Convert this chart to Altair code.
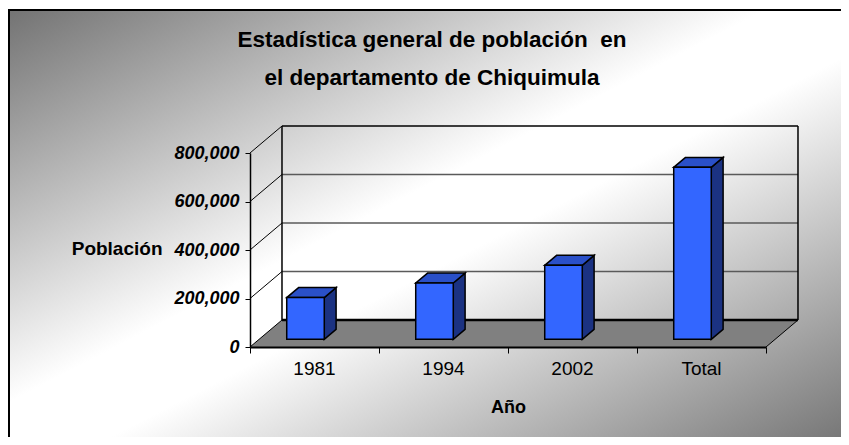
import altair as alt
import pandas as pd

# ---------------- data ----------------
categories = ["1981", "1994", "2002", "Total"]
population = [172000, 232000, 305000, 709000]
y_ticks = [0, 200000, 400000, 600000, 800000]
# the original title has a double space before "en" (kept visible with a no-break space)
title_lines = ["Estadística general de población\u00a0 en", "el departamento de Chiquimula"]
x_title = "Año"
y_title = "Población"

# ---------------- 3D styling (depth projection) ----------------
N = len(categories)
YMAX = y_ticks[-1]
DX = 0.248      # depth shift, in category units
DY = 111340     # depth shift, in value units
D0, D1 = 0.285, 0.655   # bar front / back depth (fraction of the box depth)
BX0, BX1 = 0.214, 0.505  # bar left / right inside a category
FONT = "Liberation Sans"

xs = alt.Scale(domain=[0, N], nice=False, zero=False)
ys = alt.Scale(domain=[0, YMAX], nice=False, zero=False)

yaxis = alt.Axis(
    values=y_ticks, labelExpr="format(datum.value, ',')", grid=False, title=y_title,
    zindex=1,
    domainColor="black", domainWidth=1.5, tickColor="black", tickWidth=1, tickSize=5,
    labelPadding=6, labelFont=FONT, labelFontSize=18, labelFontWeight="bold",
    labelFontStyle="italic", labelColor="black",
    titleFont=FONT, titleFontSize=19, titleFontWeight="bold", titleColor="black",
    titleAngle=0, titleAlign="right", titleBaseline="middle", titleX=-88, titleY=95,
)
xaxis = alt.Axis(
    values=list(range(N + 1)), labels=False, grid=False, title=x_title, zindex=1,
    domainColor="black", domainWidth=2, tickColor="black", tickWidth=1, tickSize=6,
    titleFont=FONT, titleFontSize=18, titleFontWeight="bold", titleColor="black",
    titleBaseline="middle", titleY=60,
)


def X(f, **kw):
    return alt.X(f, type="quantitative", scale=xs, axis=xaxis, **kw)


def Y(f, **kw):
    return alt.Y(f, type="quantitative", scale=ys, axis=yaxis, **kw)


# ---------------- tables built from the arrays ----------------
front = pd.DataFrame({
    "cat": categories,
    "x": [i + BX0 + D0 * DX for i in range(N)],
    "x2": [i + BX1 + D0 * DX for i in range(N)],
    "y": [D0 * DY for _ in range(N)],
    "y2": [v + D0 * DY for v in population],
})
side_rows, top_rows = [], []
for i, (c, v) in enumerate(zip(categories, population)):
    for d in (D0, D1):
        side_rows.append({"cat": c, "x": i + BX1 + d * DX, "lo": d * DY, "hi": v + d * DY})
        top_rows.append({"cat": c, "y": v + d * DY, "xl": i + BX0 + d * DX, "xr": i + BX1 + d * DX})
side = pd.DataFrame(side_rows)
top = pd.DataFrame(top_rows)

floor = pd.DataFrame({"y": [0, DY], "x": [0, DX], "x2": [N, N + DX]})

diag = pd.DataFrame({"x": [0] * len(y_ticks), "x2": [DX] * len(y_ticks),
                     "y": y_ticks, "y2": [v + DY for v in y_ticks]})
grid = pd.DataFrame({"x": [DX] * 3, "x2": [N + DX] * 3,
                     "y": [v + DY for v in y_ticks[1:-1]]})
walls = pd.DataFrame({
    "x": [DX, DX, N + DX, N],
    "x2": [DX, N + DX, N + DX, N + DX],
    "y": [DY, YMAX + DY, DY, 0],
    "y2": [YMAX + DY, YMAX + DY, YMAX + DY, DY],
    "w": [1.5, 1.5, 1.5, 1.0],
})
floor_back = pd.DataFrame({"x": [DX], "x2": [N + DX], "y": [DY]})
labels = pd.DataFrame({"cat": categories, "x": [i + 0.5 for i in range(N)], "y": [0] * N})

# ---------------- layers ----------------
gradient = {
    "gradient": "linear", "x1": 0, "y1": 0, "x2": 1, "y2": 1,
    "stops": [
        {"offset": 0, "color": "#737373"},
        {"offset": 0.45, "color": "#ffffff"},
        {"offset": 0.55, "color": "#ffffff"},
        {"offset": 1, "color": "#737373"},
    ],
}
one = pd.DataFrame({"k": [0]})
bg = alt.Chart(one).mark_rect(fill=gradient).encode(
    x=alt.value(-241), x2=alt.value(600), y=alt.value(-143), y2=alt.value(293)
)
frame_top = alt.Chart(one).mark_rule(color="black", strokeWidth=2).encode(
    x=alt.value(-242), x2=alt.value(600), y=alt.value(-143)
)
frame_left = alt.Chart(one).mark_rule(color="black", strokeWidth=2).encode(
    x=alt.value(-241), y=alt.value(-144), y2=alt.value(293)
)
title_l = alt.Chart(one).mark_text(
    font=FONT, fontSize=22.5, fontWeight="bold", color="black",
    align="center", baseline="alphabetic", lineHeight=38,
).encode(x=alt.value(182), y=alt.value(-106), text=alt.value(title_lines))

floor_l = alt.Chart(floor).mark_area(orient="horizontal", color="#808080").encode(
    y=Y("y"), x=X("x"), x2="x2:Q"
)
diag_l = alt.Chart(diag).mark_rule(color="black", strokeWidth=1).encode(
    x=X("x"), x2="x2:Q", y=Y("y"), y2="y2:Q"
)
grid_l = alt.Chart(grid).mark_rule(color="#5a5a5a", strokeWidth=1.5).encode(
    x=X("x"), x2="x2:Q", y=Y("y")
)
walls_l = alt.Chart(walls).mark_rule(color="black").encode(
    x=X("x"), x2="x2:Q", y=Y("y"), y2="y2:Q",
    strokeWidth=alt.StrokeWidth("w:Q", scale=None),
)
floor_back_l = alt.Chart(floor_back).mark_rule(color="black", strokeWidth=2.5).encode(
    x=X("x"), x2="x2:Q", y=Y("y")
)
front_l = alt.Chart(front).mark_rect(fill="#3366ff", stroke="black", strokeWidth=1.5).encode(
    x=X("x"), x2="x2:Q", y=Y("y"), y2="y2:Q"
)
side_l = alt.Chart(side).mark_area(fill="#1b3282", stroke="black", strokeWidth=1.5).encode(
    x=X("x"), y=Y("hi", stack=None), y2="lo:Q", detail="cat:N"
)
top_l = alt.Chart(top).mark_area(orient="horizontal", fill="#2a50c8", stroke="black",
                                 strokeWidth=1.5).encode(
    y=Y("y", stack=None), x=X("xl"), x2="xr:Q", detail="cat:N"
)
labels_l = alt.Chart(labels).mark_text(
    font=FONT, fontSize=19, color="black", dy=22, baseline="middle"
).encode(x=X("x"), y=Y("y"), text="cat:N")

chart = alt.layer(
    bg, frame_top, frame_left, title_l, floor_l, diag_l, grid_l, walls_l, floor_back_l,
    side_l, top_l, front_l, labels_l
).properties(
    width=516, height=194,
    autosize=alt.AutoSizeParams(type="none"),
    padding={"left": 242, "top": 145, "right": 75, "bottom": 90},
).configure_view(strokeWidth=0).configure(background="white")

chart.save("out.html", embed_options={"renderer": "svg", "actions": False})
